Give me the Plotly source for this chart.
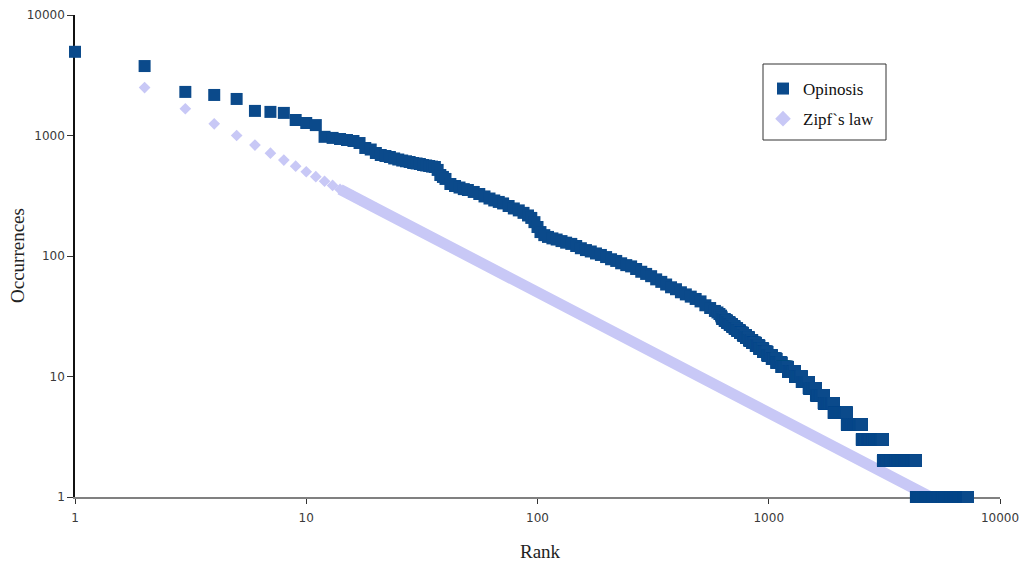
import plotly.graph_objects as go

# ---- Opinosis rank / frequency data ----
# most frequent words, one value per rank
head_ranks = list(range(1, 12))
head_counts = [4950, 3770, 2300, 2170, 2010, 1600, 1570, 1540, 1345, 1270, 1220]

# middle of the distribution
mid_ranks = [12, 13, 14, 15, 16, 17, 18, 19, 20, 21, 22, 23, 24, 25, 26, 27, 28, 29, 30,
             31, 32, 33, 34, 35, 36, 37, 38, 39, 40, 42, 44, 46, 48, 50, 53, 56, 59, 62,
             65, 68, 71, 75, 79, 83, 87, 91, 94, 97, 100, 103, 107, 111, 116, 121, 127,
             133, 140, 147, 154, 162, 170, 179, 188, 198, 208, 219, 230, 242, 254, 267,
             281, 295, 310, 326, 343, 360, 378, 397, 417, 438, 460, 483, 507, 532, 558,
             585, 600, 612, 622, 626]
mid_counts = [975, 955, 935, 918, 900, 866, 788, 765, 716, 689, 676, 663, 645, 632, 620,
              611, 603, 591, 586, 580, 569, 564, 558, 552, 548, 518, 470, 453, 436, 396,
              381, 370, 359, 353, 340, 327, 312, 300, 289, 281, 273, 260, 248, 239, 228,
              217, 207, 191, 174, 158, 149, 144, 140, 137, 133, 129, 126, 121, 116, 112,
              109, 105, 102, 98, 94, 91, 87, 84, 82, 78, 74, 71, 68, 64, 61, 58, 55, 53,
              50, 48, 46, 44, 42, 39, 37, 35, 34, 33, 32, 31]

# rare words: each count value is shared by a run of consecutive ranks
tail_counts = [30, 29, 28, 27, 26, 25, 24, 23, 22, 21, 20, 19, 18, 17, 16, 15, 14, 13, 12,
               11, 10, 9, 8, 7, 6, 5, 4, 3, 2, 1]
tail_first_rank = [630, 645, 661, 678, 695, 712, 731, 751, 773, 797, 822, 849, 879, 911,
                   947, 987, 1031, 1080, 1136, 1212, 1300, 1390, 1490, 1600, 1730, 1911,
                   2177, 2527, 3117, 4330]
last_rank = 7270

# ---- Zipf's law reference ----
zipf_ranks = list(range(1, 21)) + [5000]
zipf_values = [5000, 2500, 1667, 1250, 1000, 833, 714, 625, 556, 500, 455, 417, 385, 357,
               333, 313, 294, 278, 263, 250, 1]

# tick labels
decade_vals = [1, 10, 100, 1000, 10000]
decade_text = ["1", "10", "100", "1000", "10000"]

# expand the runs of equal counts into one point per rank
tail_ranks, tail_vals = [], []
run_ends = tail_first_rank[1:] + [last_rank + 1]
for c, start, stop in zip(tail_counts, tail_first_rank, run_ends):
    for r in range(start, stop):
        tail_ranks.append(r)
        tail_vals.append(c)

op_ranks = head_ranks + mid_ranks + tail_ranks
op_counts = head_counts + mid_counts + tail_vals

OP_BLUE = "#0b4a8b"
ZIPF_LILAC = "#c8c8f6"

fig = go.Figure()

# Zipf band (continuous part) drawn as a thick line
band_start = zipf_ranks.index(14)
fig.add_trace(go.Scatter(
    x=zipf_ranks[band_start:], y=zipf_values[band_start:],
    mode="lines", line=dict(color=ZIPF_LILAC, width=11),
    hoverinfo="skip", showlegend=False, cliponaxis=False,
))
fig.add_trace(go.Scatter(
    x=zipf_ranks, y=zipf_values, mode="markers", name="Zipf`s law",
    marker=dict(symbol="diamond", size=9, color=ZIPF_LILAC, line=dict(width=0)),
    cliponaxis=False, legendrank=2, legendgroup="zipf",
))
fig.add_trace(go.Scatter(
    x=op_ranks, y=op_counts, mode="markers", name="Opinosis",
    marker=dict(symbol="square", size=12, color=OP_BLUE, line=dict(width=0)),
    cliponaxis=False, legendrank=1, legendgroup="opinosis",
))

tick_font = dict(family="DejaVu Sans", size=12, color="#3a3a3a")
title_font = dict(family="Liberation Serif", size=19, color="#222222")

# plot area in pixels: x 75..1000, y 15..497
PX_L, PX_R, PX_T, PX_B = 75, 1000, 15, 497


def px_x(x):
    return (x - PX_L) / (PX_R - PX_L)


def px_y(y):
    return (PX_B - y) / (PX_B - PX_T)


fig.update_layout(
    width=1026, height=564,
    margin=dict(l=PX_L, r=1026 - PX_R, t=PX_T, b=564 - PX_B),
    paper_bgcolor="white", plot_bgcolor="white",
    showlegend=True,
    legend=dict(
        x=px_x(763), y=px_y(71), xanchor="left", yanchor="top",
        bgcolor="rgba(0,0,0,0)", borderwidth=0,
        font=dict(family="Liberation Serif", size=17, color="#111111"),
        traceorder="grouped", tracegroupgap=5,
        itemsizing="constant",
    ),
    shapes=[dict(
        type="rect", xref="paper", yref="paper",
        x0=px_x(763), x1=px_x(886), y0=px_y(140), y1=px_y(64),
        line=dict(color="#333333", width=1), fillcolor="rgba(0,0,0,0)",
    )],
    annotations=[
        dict(text="Rank", xref="paper", yref="paper", x=px_x(540), y=px_y(551),
             xanchor="center", yanchor="middle", showarrow=False, font=title_font),
        dict(text="Occurrences", xref="paper", yref="paper", x=px_x(17), y=px_y(256),
             xanchor="center", yanchor="middle", showarrow=False, textangle=-90,
             font=title_font),
    ],
)

fig.update_xaxes(
    type="log", range=[0, 4], automargin=False,
    tickvals=decade_vals, ticktext=decade_text,
    showgrid=False, zeroline=False,
    showline=True, linecolor="#808080", linewidth=1.5,
    ticks="outside", ticklen=5, tickcolor="#333333", tickwidth=1,
    ticklabelstandoff=4,
    tickfont=tick_font, layer="below traces",
)
fig.update_yaxes(
    type="log", range=[0, 4], automargin=False,
    tickvals=decade_vals, ticktext=decade_text,
    showgrid=False, zeroline=False,
    showline=True, linecolor="#111111", linewidth=1.5,
    ticks="outside", ticklen=6, tickcolor="#333333", tickwidth=1,
    tickfont=tick_font, layer="below traces",
)

fig.write_html("out.html")
